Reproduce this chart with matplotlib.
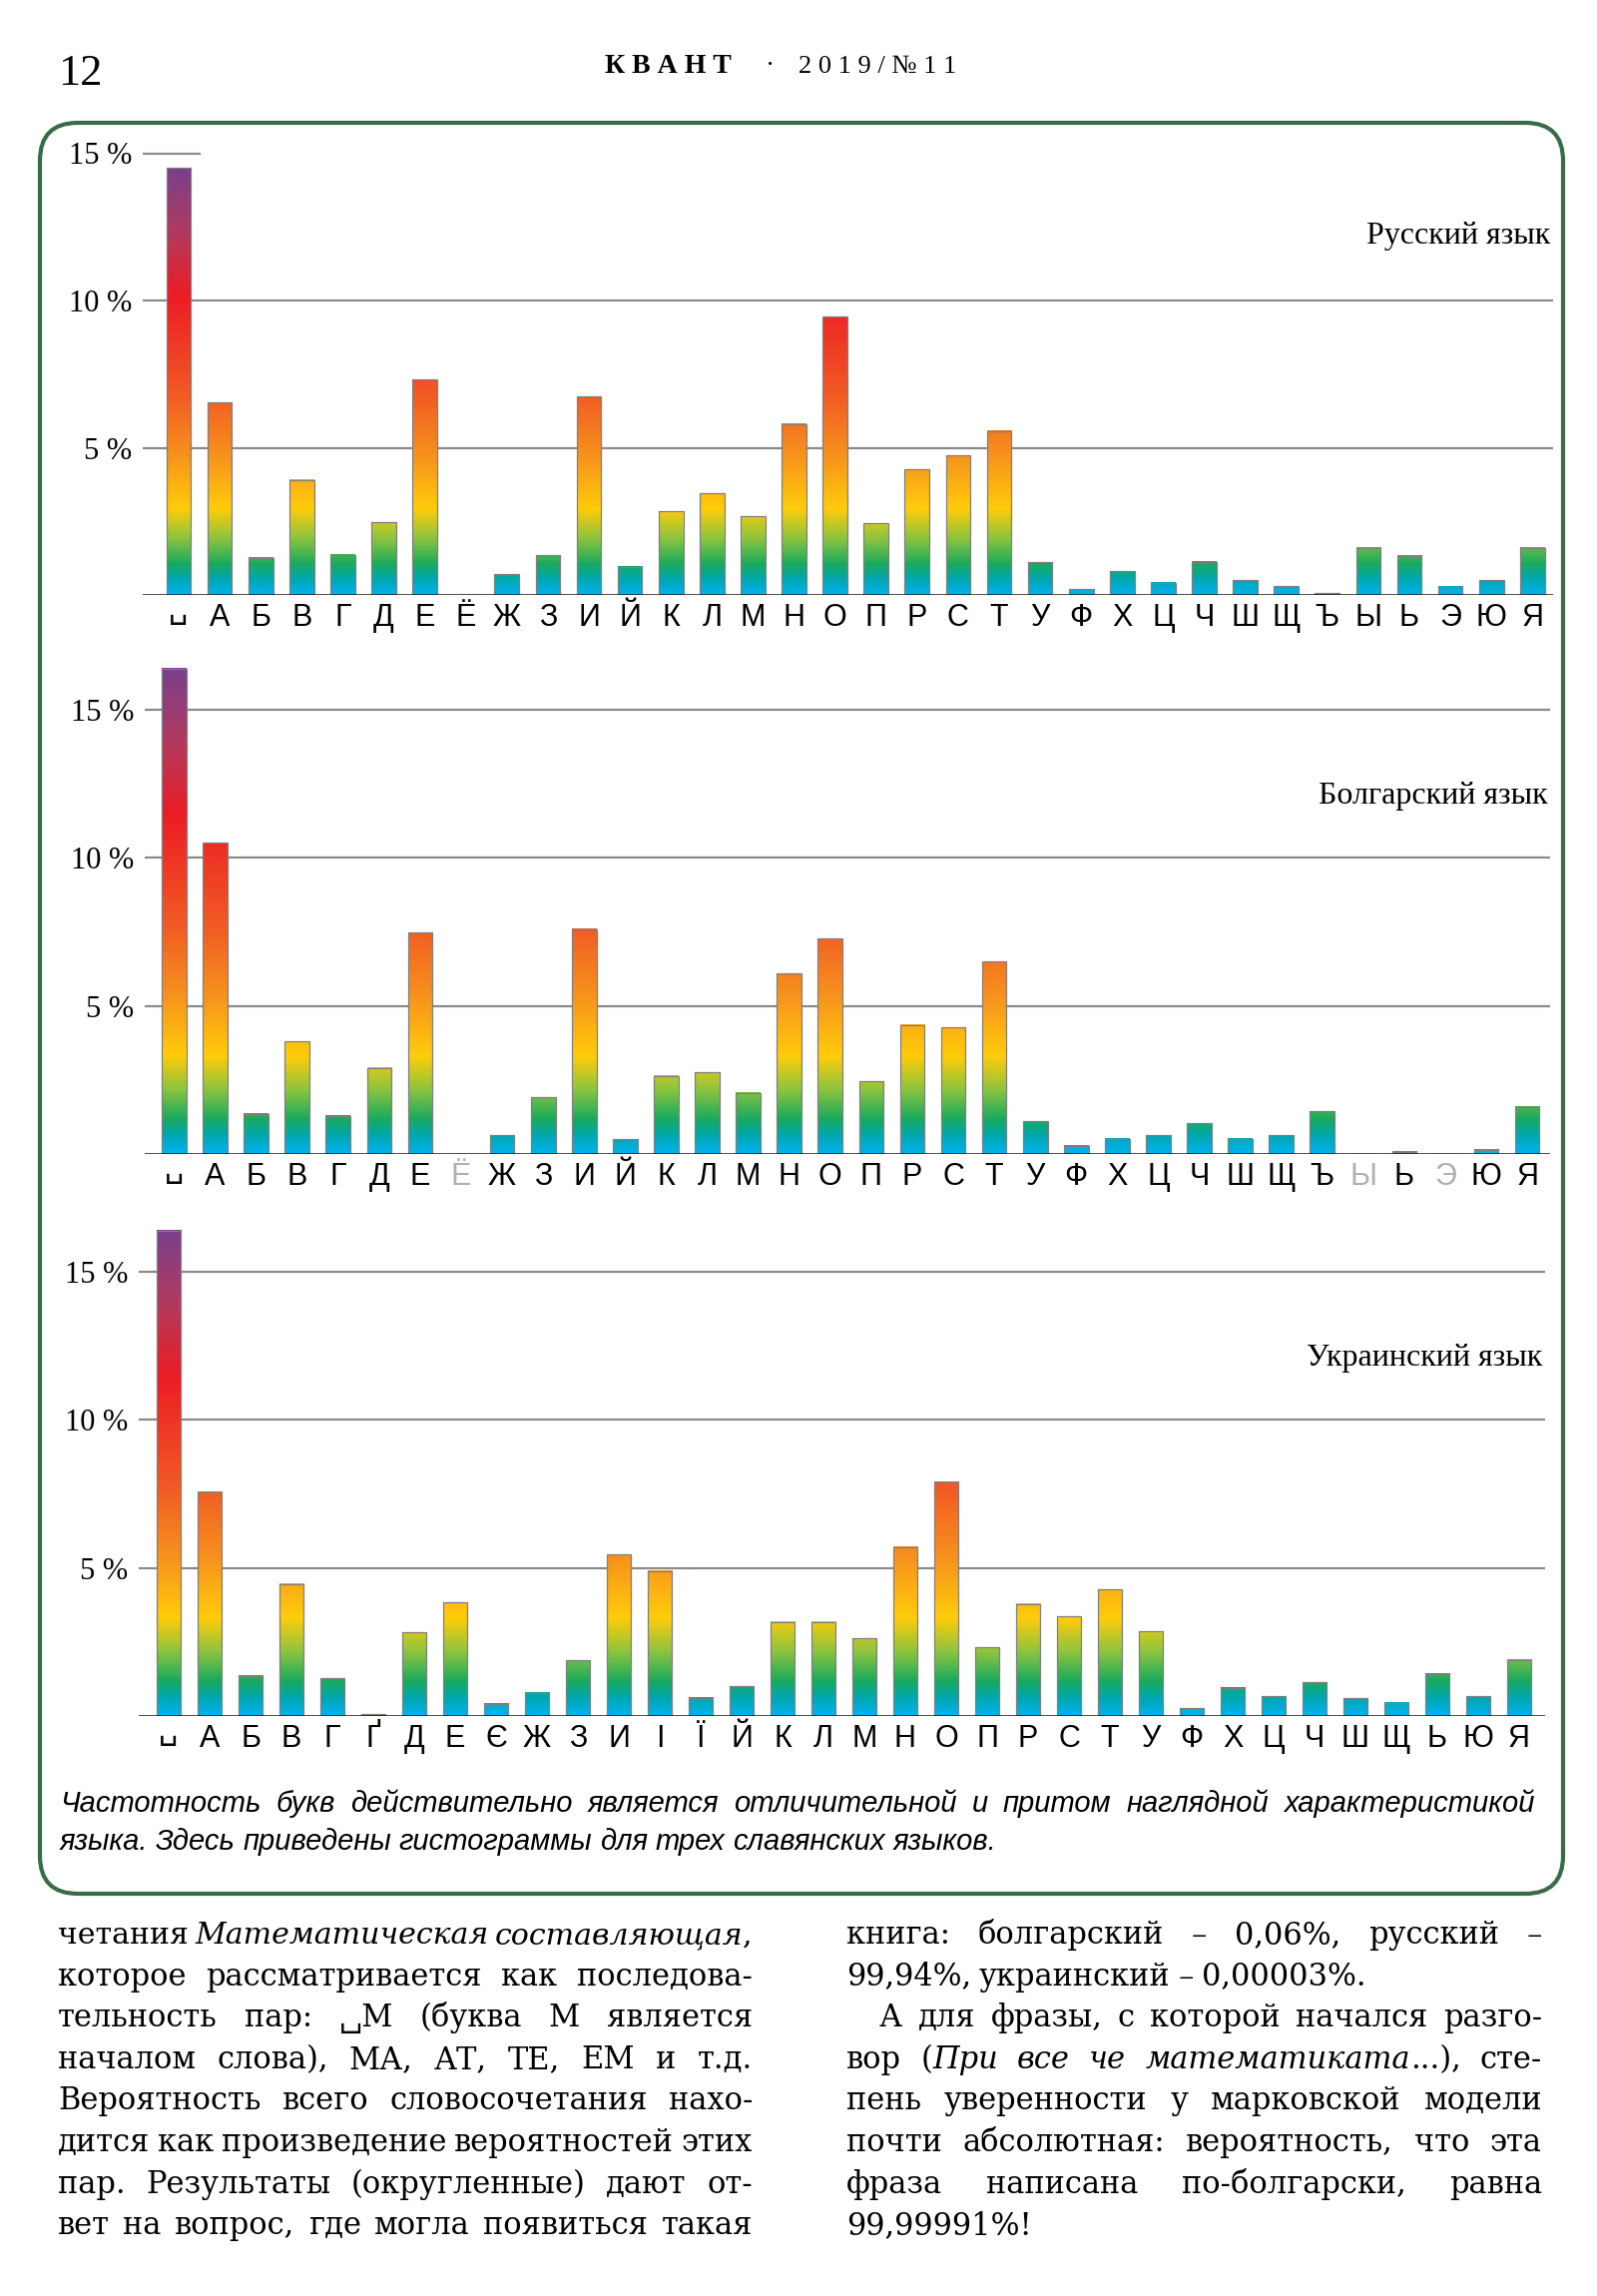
import matplotlib
matplotlib.use('Agg')
import matplotlib.pyplot as plt
import numpy as np
from matplotlib.colors import LinearSegmentedColormap
from matplotlib.patches import FancyBboxPatch
from matplotlib.transforms import ScaledTranslation

# --- data (percent of letters) ---
ru_letters = ['␣', 'А', 'Б', 'В', 'Г', 'Д', 'Е', 'Ё', 'Ж', 'З', 'И', 'Й', 'К', 'Л', 'М', 'Н', 'О',
              'П', 'Р', 'С', 'Т', 'У', 'Ф', 'Х', 'Ц', 'Ч', 'Ш', 'Щ', 'Ъ', 'Ы', 'Ь', 'Э', 'Ю', 'Я']
ru_freq = [14.5, 6.53, 1.27, 3.90, 1.37, 2.47, 7.32, 0.0, 0.70, 1.35, 6.73, 0.95, 2.84, 3.45, 2.67, 5.80, 9.45,
           2.44, 4.26, 4.74, 5.57, 1.11, 0.20, 0.80, 0.42, 1.13, 0.50, 0.29, 0.06, 1.60, 1.33, 0.28, 0.50, 1.60]

bg_letters = ru_letters
bg_freq = [16.39, 10.50, 1.36, 3.80, 1.29, 2.91, 7.48, 0.0, 0.63, 1.91, 7.60, 0.50, 2.63, 2.76, 2.06, 6.09, 7.27,
           2.45, 4.36, 4.27, 6.50, 1.11, 0.28, 0.51, 0.63, 1.04, 0.51, 0.63, 1.44, 0.0, 0.08, 0.0, 0.14, 1.59]
bg_unused = ['Ё', 'Ы', 'Э']

ua_letters = ['␣', 'А', 'Б', 'В', 'Г', 'Ґ', 'Д', 'Е', 'Є', 'Ж', 'З', 'И', 'І', 'Ї', 'Й', 'К', 'Л',
              'М', 'Н', 'О', 'П', 'Р', 'С', 'Т', 'У', 'Ф', 'Х', 'Ц', 'Ч', 'Ш', 'Щ', 'Ь', 'Ю', 'Я']
ua_freq = [16.39, 7.56, 1.36, 4.45, 1.28, 0.06, 2.83, 3.84, 0.41, 0.78, 1.88, 5.45, 4.90, 0.62, 1.00, 3.17, 3.17,
           2.62, 5.70, 7.89, 2.32, 3.79, 3.36, 4.27, 2.85, 0.26, 0.95, 0.67, 1.13, 0.59, 0.44, 1.43, 0.67, 1.90]

titles = ['Русский язык', 'Болгарский язык', 'Украинский язык']
yticks = [5, 10, 15]
ytick_labels = ['5 %', '10 %', '15 %']

caption = ['*Частотность букв действительно является отличительной и притом наглядной характеристикой*',
           '*языка. Здесь приведены гистограммы для трех славянских языков.*']
col_left = ['четания *Математическая составляющая*,',
            'которое рассматривается как последова-',
            'тельность пар: ␣М (буква М является',
            'началом слова), МА, АТ, ТЕ, ЕМ и т.д.',
            'Вероятность всего словосочетания нахо-',
            'дится как произведение вероятностей этих',
            'пар. Результаты (округленные) дают от-',
            'вет на вопрос, где могла появиться такая']
col_right = ['книга: болгарский – 0,06%, русский –',
             '99,94%, украинский – 0,00003%.',
             'А для фразы, с которой начался разго-',
             'вор (*При все че математиката*...), сте-',
             'пень уверенности у марковской модели',
             'почти абсолютная: вероятность, что эта',
             'фраза написана по-болгарски, равна',
             '99,99991%!']
right_last = [1, 7]   # lines ending a paragraph
right_indent = [2]

W, H = 1600, 2300
SERIF = ['Liberation Serif', 'DejaVu Serif', 'DejaVu Sans']
BODY = ['DejaVu Serif', 'DejaVu Sans']
NARROW = ['Liberation Sans Narrow', 'Liberation Sans', 'DejaVu Sans']

rainbow = LinearSegmentedColormap.from_list('kvant', [
    (0.00, '#00b3ef'), (0.035, '#00a7b0'), (0.07, '#19aa5e'), (0.13, '#8cc43f'),
    (0.20, '#ffcc0a'), (0.32, '#f7941d'), (0.47, '#f15a24'), (0.70, '#ec1c24'),
    (0.85, '#b23a5e'), (1.00, '#7a3f8c')])

fig = plt.figure(figsize=(W / 100, H / 100), dpi=100)

# page layer in pixel coordinates
page = fig.add_axes([0, 0, 1, 1], zorder=0)
page.set_xlim(0, W)
page.set_ylim(H, 0)
page.axis('off')

# (left px, right px, baseline px, px per %, first bar centre px, bar pitch px, title y)
layout = [(143, 1556, 596, 29.5, 179, 41.1, 12.2),
          (145, 1553, 1156, 29.67, 174.5, 41.08, 12.07),
          (139, 1548, 1719, 29.67, 169, 41.0, 12.07)]
datasets = [(ru_letters, ru_freq), (bg_letters, bg_freq), (ua_letters, ua_freq)]

for i, ((letters, freq), (left, right, base, ppp, c0, pitch, ty)) in enumerate(zip(datasets, layout)):
    ymax = 17.0
    ax = fig.add_axes([left / W, 1 - base / H, (right - left) / W, ymax * ppp / H], zorder=1)
    ax.patch.set_alpha(0)
    for s in ax.spines.values():
        s.set_visible(False)
    x = np.arange(len(letters))
    vmax = max(freq)

    bars = ax.bar(x, freq, width=0.6, facecolor='none', edgecolor='#808080', linewidth=0.9, zorder=3)
    for b, h in zip(bars, freq):
        if h <= 0:
            continue
        ax.imshow(np.linspace(0, h, 300).reshape(-1, 1), extent=[b.get_x(), b.get_x() + b.get_width(), 0, h],
                  origin='lower', cmap=rainbow, vmin=0, vmax=vmax, aspect='auto', zorder=2)

    for g in yticks:
        if i == 0 and g == 15:
            ax.axhline(g, xmin=0, xmax=0.04, color='#8a8a8a', lw=1.6, zorder=1)
        else:
            ax.axhline(g, color='#8a8a8a', lw=1.6, zorder=1)
    ax.axhline(0, color='#1a1a1a', lw=1.8, zorder=4)

    ax.set_xlim((left - c0) / pitch, (right - c0) / pitch)
    ax.set_ylim(0, ymax)
    ax.set_yticks(yticks, ytick_labels, fontsize=22, family=SERIF)
    ax.set_xticks(x, letters, fontsize=22, family=NARROW)
    ax.tick_params(axis='y', length=0, pad=8)
    ax.tick_params(axis='x', length=0, pad=22)
    for lbl in ax.get_xticklabels():
        lbl.set_va('baseline')
        if i == 1 and lbl.get_text() in bg_unused:
            lbl.set_color('#b0b0b0')
        if lbl.get_text() == '␣':
            # the open-box glyph hangs below the baseline; lift it to sit with the letters
            lbl.set_transform(lbl.get_transform() + ScaledTranslation(0, 8 / 100, fig.dpi_scale_trans))
    ax.text(0.998, ty, titles[i], transform=ax.get_yaxis_transform(), ha='right', va='center',
            fontsize=23, family=SERIF)

# header
page.text(58, 85, '12', fontsize=32, family=SERIF, va='baseline')
page.text(606, 73, 'К В А Н Т', fontsize=20, family=SERIF, weight='bold', va='baseline')
page.text(772, 73, '·', fontsize=20, family=SERIF, va='baseline', ha='center')
page.text(800, 73, '2 0 1 9 / № 1 1', fontsize=19, family=SERIF, va='baseline')

# frame
page.add_patch(FancyBboxPatch((40, 123), 1526, 1774, boxstyle='round,pad=0,rounding_size=38',
                              ec='#386b48', fc='none', lw=3))

renderer = fig.canvas.get_renderer()


def put_line(line, x0, x1, y, justify, size, family):
    italic = False
    words = []
    for w in line.split(' '):
        segs = []
        parts = w.split('*')
        for k, p in enumerate(parts):
            if k > 0:
                italic = not italic
            if p:
                segs.append((p, italic))
        if segs:
            words.append(segs)
    space = size * 0.26 * 100 / 72
    while True:
        objs = []
        widths = []
        for segs in words:
            group = []
            wsum = 0
            for txt, it in segs:
                t = page.text(0, y, txt, fontsize=size, family=family, style='italic' if it else 'normal',
                              va='baseline', ha='left')
                ww = t.get_window_extent(renderer).width
                group.append((t, ww))
                wsum += ww
            objs.append(group)
            widths.append(wsum)
        need = sum(widths) + space * 0.7 * (len(objs) - 1)
        if need <= x1 - x0 or size < 10:
            break
        for group in objs:
            for t, _ in group:
                t.remove()
        size *= (x1 - x0) / need
    if justify and len(objs) > 1:
        gap = (x1 - x0 - sum(widths)) / (len(objs) - 1)
    else:
        gap = space
    xx = x0
    for group, wsum in zip(objs, widths):
        cx = xx
        for t, ww in group:
            t.set_x(cx)
            cx += ww
        xx += wsum + gap


# caption
put_line(caption[0], 60, 1538, 1815, True, 21, NARROW)
put_line(caption[1], 60, 1538, 1853, False, 21, NARROW)

# body text, two columns
for k, line in enumerate(col_left):
    put_line(line, 58, 754, 1947 + k * 41.6, True, 22, BODY)
for k, line in enumerate(col_right):
    x0 = 881 if k in right_indent else 848
    put_line(line, x0, 1545, 1947 + k * 41.6, k not in right_last, 22, BODY)

fig.savefig('out.png', dpi=100, facecolor='white')
